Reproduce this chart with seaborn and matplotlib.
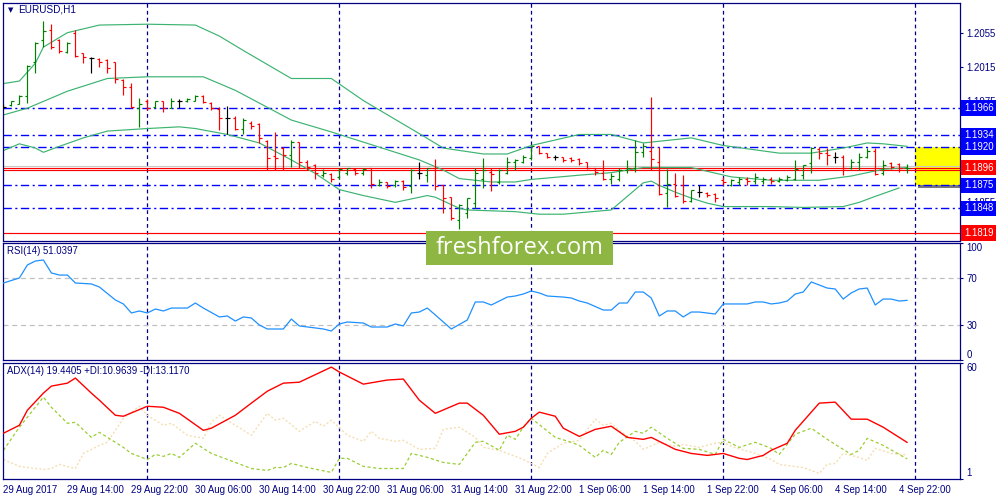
import matplotlib
matplotlib.use("Agg")
import matplotlib.pyplot as plt
import matplotlib.patheffects as pe
import matplotlib.transforms as mtransforms
from matplotlib.patches import Rectangle
import numpy as np
import pandas as pd
import seaborn as sns

sns.set_style("white")
plt.rcParams["font.family"] = ["Liberation Sans", "DejaVu Sans"]

# EURUSD H1 bars, 29 Aug 06:00 .. 4 Sep 23:00 (one value per hourly bar)
opens = [1.1967, 1.1970, 1.1971, 1.1980, 1.2020, 1.2046, 1.2058, 1.2046, 1.2032, 1.2055,
         1.2031, 1.2025, 1.2024, 1.2023, 1.2020, 1.1999, 1.1991, 1.1966, 1.1974, 1.1967,
         1.1974, 1.1966, 1.1975, 1.1974, 1.1975, 1.1980, 1.1972, 1.1965, 1.1955, 1.1955,
         1.1942, 1.1949, 1.1947, 1.1927, 1.1910, 1.1919, 1.1911, 1.1926, 1.1902, 1.1899,
         1.1887, 1.1888, 1.1885, 1.1889, 1.1894, 1.1890, 1.1895, 1.1876, 1.1879, 1.1875,
         1.1880, 1.1874, 1.1890, 1.1887, 1.1895, 1.1875, 1.1861, 1.1834, 1.1843, 1.1854,
         1.1883, 1.1891, 1.1879, 1.1890, 1.1902, 1.1903, 1.1907, 1.1921, 1.1913, 1.1908,
         1.1909, 1.1907, 1.1906, 1.1902, 1.1896, 1.1890, 1.1883, 1.1883, 1.1893, 1.1895,
         1.1914, 1.1915, 1.1903, 1.1866, 1.1877, 1.1875, 1.1857, 1.1867, 1.1866, 1.1865,
         1.1881, 1.1876, 1.1879, 1.1882, 1.1880, 1.1880, 1.1883, 1.1880, 1.1881, 1.1882,
         1.1887, 1.1901, 1.1918, 1.1913, 1.1908, 1.1909, 1.1896, 1.1902, 1.1908, 1.1916,
         1.1889, 1.1901, 1.1900, 1.1895]
highs = [1.1971, 1.1975, 1.1981, 1.2017, 1.2044, 1.2069, 1.2065, 1.2047, 1.2044, 1.2058,
         1.2031, 1.2026, 1.2025, 1.2024, 1.2020, 1.2000, 1.1996, 1.1978, 1.1977, 1.1975,
         1.1975, 1.1978, 1.1977, 1.1978, 1.1981, 1.1981, 1.1973, 1.1967, 1.1968, 1.1957,
         1.1954, 1.1951, 1.1949, 1.1928, 1.1938, 1.1920, 1.1928, 1.1926, 1.1905, 1.1900,
         1.1894, 1.1889, 1.1896, 1.1896, 1.1895, 1.1895, 1.1896, 1.1882, 1.1879, 1.1881,
         1.1881, 1.1894, 1.1902, 1.1896, 1.1906, 1.1876, 1.1861, 1.1853, 1.1860, 1.1896,
         1.1907, 1.1895, 1.1894, 1.1908, 1.1906, 1.1911, 1.1922, 1.1921, 1.1913, 1.1911,
         1.1909, 1.1908, 1.1907, 1.1903, 1.1896, 1.1905, 1.1889, 1.1895, 1.1905, 1.1929,
         1.1925, 1.1979, 1.1920, 1.1894, 1.1889, 1.1887, 1.1870, 1.1875, 1.1867, 1.1866,
         1.1885, 1.1883, 1.1885, 1.1885, 1.1889, 1.1885, 1.1885, 1.1885, 1.1887, 1.1905,
         1.1899, 1.1920, 1.1920, 1.1919, 1.1914, 1.1911, 1.1906, 1.1913, 1.1919, 1.1919,
         1.1905, 1.1902, 1.1901, 1.1900]
lows = [1.1965, 1.1968, 1.1971, 1.1972, 1.2008, 1.2038, 1.2036, 1.2031, 1.2031, 1.2026,
        1.2019, 1.2007, 1.2014, 1.2008, 1.1996, 1.1981, 1.1966, 1.1944, 1.1964, 1.1966,
        1.1961, 1.1966, 1.1966, 1.1973, 1.1974, 1.1972, 1.1964, 1.1940, 1.1936, 1.1940,
        1.1936, 1.1942, 1.1925, 1.1893, 1.1893, 1.1893, 1.1897, 1.1896, 1.1893, 1.1882,
        1.1885, 1.1879, 1.1883, 1.1887, 1.1887, 1.1887, 1.1872, 1.1874, 1.1872, 1.1873,
        1.1870, 1.1866, 1.1883, 1.1879, 1.1870, 1.1842, 1.1834, 1.1823, 1.1836, 1.1848,
        1.1872, 1.1868, 1.1877, 1.1888, 1.1893, 1.1901, 1.1905, 1.1912, 1.1907, 1.1905,
        1.1902, 1.1902, 1.1899, 1.1894, 1.1887, 1.1881, 1.1877, 1.1880, 1.1889, 1.1891,
        1.1909, 1.1893, 1.1864, 1.1849, 1.1861, 1.1854, 1.1855, 1.1861, 1.1861, 1.1855,
        1.1875, 1.1874, 1.1876, 1.1876, 1.1877, 1.1877, 1.1877, 1.1879, 1.1880, 1.1881,
        1.1883, 1.1889, 1.1906, 1.1899, 1.1901, 1.1887, 1.1894, 1.1893, 1.1907, 1.1887,
        1.1887, 1.1894, 1.1891, 1.1889]
closes = [1.1967, 1.1974, 1.1980, 1.2016, 1.2043, 1.2057, 1.2038, 1.2033, 1.2043, 1.2027,
          1.2026, 1.2025, 1.2021, 1.2013, 1.2000, 1.1991, 1.1967, 1.1971, 1.1966, 1.1975,
          1.1966, 1.1975, 1.1975, 1.1977, 1.1980, 1.1973, 1.1966, 1.1954, 1.1955, 1.1942,
          1.1952, 1.1945, 1.1931, 1.1907, 1.1907, 1.1911, 1.1926, 1.1902, 1.1897, 1.1890,
          1.1890, 1.1883, 1.1894, 1.1895, 1.1890, 1.1894, 1.1877, 1.1879, 1.1874, 1.1880,
          1.1873, 1.1893, 1.1890, 1.1895, 1.1874, 1.1860, 1.1836, 1.1852, 1.1860, 1.1890,
          1.1893, 1.1888, 1.1893, 1.1903, 1.1905, 1.1908, 1.1921, 1.1913, 1.1909, 1.1908,
          1.1905, 1.1905, 1.1901, 1.1896, 1.1891, 1.1883, 1.1886, 1.1893, 1.1895, 1.1914,
          1.1922, 1.1906, 1.1865, 1.1877, 1.1862, 1.1857, 1.1869, 1.1867, 1.1864, 1.1860,
          1.1879, 1.1881, 1.1883, 1.1880, 1.1885, 1.1883, 1.1880, 1.1882, 1.1885, 1.1894,
          1.1899, 1.1919, 1.1913, 1.1911, 1.1908, 1.1895, 1.1903, 1.1909, 1.1916, 1.1888,
          1.1899, 1.1897, 1.1895, 1.1896]

# Bollinger bands (read at bar positions)
bb_upper_bar = [0, 2, 4, 5, 8, 12, 18, 24, 27, 30, 32, 36, 41, 45, 52, 55, 60, 63, 66, 72,
                76, 80, 86, 90, 97, 101, 105, 108, 110, 113]
bb_upper = [1.1995, 1.1998, 1.2019, 1.2038, 1.2055, 1.2064, 1.2065, 1.2064, 1.2051, 1.2034,
            1.2023, 1.2001, 1.2001, 1.1975, 1.1936, 1.1919, 1.1912, 1.1912, 1.1922, 1.1935,
            1.1935, 1.1925, 1.1931, 1.1922, 1.1913, 1.1913, 1.1919, 1.1925, 1.1924, 1.1921]
bb_mid_bar = [0, 3, 8, 13, 18, 25, 29, 33, 36, 41, 45, 49, 52, 55, 57, 61, 64, 66, 72, 76,
              80, 86, 91, 96, 102, 106, 110, 113]
bb_mid = [1.1958, 1.1966, 1.1986, 1.2001, 1.2003, 1.2003, 1.1987, 1.1967, 1.1952, 1.1938,
          1.1926, 1.1914, 1.1905, 1.1893, 1.1883, 1.1879, 1.1879, 1.1882, 1.1887, 1.1890,
          1.1896, 1.1896, 1.1885, 1.1881, 1.1881, 1.1886, 1.1894, 1.1896]
bb_lower_bar = [0, 2, 4, 5, 7, 10, 13, 18, 22, 24, 28, 32, 36, 39, 42, 45, 49, 53, 54, 57,
                58, 64, 67, 70, 76, 80, 81, 82, 84, 86, 88, 90, 96, 100, 105, 107, 109, 112]
bb_lower = [1.1916, 1.1924, 1.1919, 1.1914, 1.1921, 1.1931, 1.1939, 1.1942, 1.1944, 1.1942,
            1.1935, 1.1925, 1.1905, 1.1889, 1.1870, 1.1863, 1.1855, 1.1863, 1.1861, 1.1848,
            1.1846, 1.1844, 1.1841, 1.1841, 1.1846, 1.1878, 1.1880, 1.1875, 1.1867, 1.1860,
            1.1854, 1.1850, 1.1850, 1.1849, 1.1850, 1.1855, 1.1862, 1.1872]

# RSI(14)
rsi_bar = [0, 2, 3, 4, 5, 6, 7, 8, 9, 11, 12, 14, 15, 16, 17, 18, 19, 20, 21, 23,
           24, 25, 27, 28, 29, 30, 31, 32, 33, 35, 36, 37, 39, 40, 41, 42, 43, 45, 46, 48,
           49, 50, 51, 52, 53, 54, 55, 56, 58, 59, 60, 61, 62, 63, 64, 65, 66, 67, 68, 70,
           71, 72, 73, 75, 76, 77, 78, 79, 80, 81, 82, 83, 84, 85, 86, 87, 89, 90, 91, 93,
           94, 95, 96, 97, 98, 99, 100, 101, 102, 103, 104, 105, 106, 107, 108, 109, 110, 111, 112, 113]
rsi = [65.8, 70.1, 81.2, 84.6, 85.5, 74.4, 72.6, 72.6, 65.8, 65.0,
       62.4, 51.3, 47.9, 40.2, 41.9, 40.2, 43.6, 41.9, 44.4, 44.4,
       48.7, 44.4, 36.8, 37.6, 33.3, 36.8, 35.9, 29.9, 26.5, 26.5,
       35.0, 29.1, 27.4, 26.5, 24.8, 30.8, 32.5, 31.6, 28.2, 28.2,
       30.8, 29.1, 40.2, 41.0, 44.4, 38.5, 32.5, 26.5, 34.2, 49.6,
       49.6, 47.0, 50.4, 53.8, 54.7, 56.4, 59.0, 57.3, 54.7, 53.8,
       53.0, 50.4, 48.7, 42.7, 42.7, 48.7, 48.7, 58.1, 58.1, 53.0,
       37.6, 41.9, 41.9, 36.8, 41.0, 41.0, 39.3, 47.9, 47.9, 47.9,
       49.6, 49.6, 47.9, 48.7, 50.4, 56.4, 58.1, 66.7, 64.1, 61.5,
       60.7, 52.1, 57.3, 60.7, 61.5, 47.0, 52.1, 52.1, 50.4, 51.0]

# ADX(14) with +DI / -DI
adx_bar = [0, 2, 3, 5, 6, 8, 9, 11, 12, 14, 15, 18, 20, 22, 25, 26, 29, 31, 33, 35,
           37, 41, 42, 45, 48, 50, 52, 54, 57, 58, 60, 62, 64, 65, 66, 67, 69, 70, 72, 74,
           76, 78, 80, 81, 84, 86, 88, 90, 92, 93, 95, 96, 98, 99, 102, 104, 106, 108, 110, 113]
adx = [24.1, 28.2, 35.9, 44.6, 48.2, 49.7, 52.3, 44.6, 41.0, 33.3,
       32.8, 37.9, 37.4, 34.3, 25.6, 26.7, 33.3, 39.5, 45.6, 49.7,
       50.2, 57.9, 55.4, 49.2, 51.3, 51.8, 41.0, 34.3, 39.5, 39.5,
       33.3, 23.6, 25.1, 27.2, 31.8, 34.9, 32.8, 26.7, 22.5, 26.1,
       27.7, 22.0, 21.0, 22.0, 15.9, 13.8, 12.8, 13.8, 11.3, 10.7,
       12.8, 15.4, 19.0, 25.6, 39.5, 40.0, 31.3, 31.3, 27.2, 19.4]
pdi_bar = [0, 2, 5, 6, 8, 9, 11, 12, 15, 16, 18, 19, 20, 21, 22, 24, 26, 29, 31, 33,
           34, 35, 36, 38, 41, 42, 43, 45, 47, 50, 51, 53, 55, 57, 59, 60, 62, 63, 64, 65,
           66, 69, 71, 72, 74, 75, 76, 77, 79, 80, 81, 83, 85, 87, 89, 90, 92, 94, 96, 97,
           99, 101, 103, 106, 107, 108, 110, 113]
pdi = [15.4, 27.2, 42.6, 37.4, 29.2, 29.7, 22.0, 24.6, 16.9, 13.8,
       10.7, 13.3, 12.3, 13.8, 11.8, 19.0, 13.8, 9.2, 6.1, 5.1,
       6.6, 6.6, 8.7, 6.6, 4.1, 11.3, 11.3, 7.2, 6.1, 6.1,
       13.8, 11.8, 9.2, 8.2, 19.5, 20.0, 15.4, 23.1, 21.0, 27.2,
       31.8, 22.0, 19.5, 17.9, 11.8, 15.4, 13.3, 19.5, 25.1, 24.1,
       27.2, 21.5, 16.4, 15.9, 13.3, 21.0, 16.9, 19.5, 16.4, 13.3,
       23.6, 26.7, 21.0, 13.3, 15.4, 21.5, 17.9, 11.0]
mdi_bar = [0, 2, 5, 6, 7, 9, 10, 12, 13, 15, 17, 18, 20, 21, 23, 25, 26, 27, 29, 31,
           33, 34, 35, 37, 39, 40, 41, 43, 45, 46, 47, 49, 50, 52, 54, 55, 57, 59, 60, 62,
           65, 67, 68, 70, 72, 74, 75, 76, 77, 79, 80, 82, 84, 85, 87, 89, 90, 91, 94, 96,
           97, 100, 102, 103, 104, 105, 107, 108, 109, 111, 113]
mdi = [10.7, 7.2, 5.6, 6.1, 8.2, 6.1, 13.8, 17.9, 19.5, 31.8,
       37.9, 33.3, 28.2, 29.2, 23.1, 21.5, 29.7, 33.3, 28.2, 23.1,
       34.3, 30.8, 31.8, 25.1, 30.2, 27.7, 30.8, 23.1, 20.0, 25.1,
       21.5, 20.0, 20.5, 15.9, 16.4, 26.1, 27.2, 22.0, 16.9, 15.4,
       10.7, 6.6, 13.8, 19.0, 20.5, 31.3, 28.2, 29.2, 25.6, 20.0,
       15.9, 19.5, 17.4, 18.4, 16.9, 19.0, 19.5, 17.4, 13.8, 10.7,
       8.2, 6.6, 3.6, 8.2, 8.7, 13.8, 11.8, 10.2, 16.4, 13.8, 13.1]

# horizontal levels and zone
blue_levels = [1.1966, 1.1934, 1.1920, 1.1875, 1.1848]
red_levels = [1.1896, 1.1893, 1.1819]
red_labels = [1.1896, 1.1819]
bid_level = 1.1898
zone_top, zone_bottom = 1.1920, 1.1875
zone_start_bar = 114
price_ticks = [1.2055, 1.2015, 1.1975, 1.1935, 1.1895, 1.1855, 1.1815]
hidden_ticks = [1.1935, 1.1895]   # fully covered by the level boxes

day_start_bars = [18, 42, 66, 90, 114]
time_labels = ["29 Aug 2017", "29 Aug 14:00", "29 Aug 22:00", "30 Aug 06:00", "30 Aug 14:00",
               "30 Aug 22:00", "31 Aug 06:00", "31 Aug 14:00", "31 Aug 22:00", "1 Sep 06:00",
               "1 Sep 14:00", "1 Sep 22:00", "4 Sep 06:00", "4 Sep 14:00", "4 Sep 22:00"]

NAVY = "#000080"
FS = 6.9
X_MAX = 119.6

bars = pd.DataFrame({"open": opens, "high": highs, "low": lows, "close": closes})
bars["bar"] = np.arange(len(bars))
bars["color"] = ["#008000" if c > o else ("#FF0000" if c < o else "black")
                 for o, c in zip(bars["open"], bars["close"])]

fig = plt.figure(figsize=(10, 5), dpi=100)
ax_p = fig.add_axes([0.003, 0.519, 0.957, 0.475])
ax_r = fig.add_axes([0.003, 0.280, 0.957, 0.234], sharex=ax_p)
ax_a = fig.add_axes([0.003, 0.043, 0.957, 0.231], sharex=ax_p)

for ax in (ax_p, ax_r, ax_a):
    ax.set_facecolor("white")
    for s in ax.spines.values():
        s.set_color(NAVY)
        s.set_linewidth(0.9)
    ax.yaxis.tick_right()
    ax.tick_params(axis="y", direction="out", length=2.5, width=0.8, colors=NAVY,
                   labelsize=FS, pad=2, right=True, left=False)
    for b in day_start_bars:
        ax.axvline(b, color=NAVY, lw=0.9, ls=(0, (3, 2.5)), zorder=1)

# ---- price panel ----
ax_p.add_patch(Rectangle((zone_start_bar, zone_bottom), X_MAX - zone_start_bar, zone_top - zone_bottom,
                         facecolor="#FFFF00", edgecolor="none", zorder=0.5,
                         path_effects=[pe.withSimplePatchShadow(offset=(2, -2), shadow_rgbFace="#555555", alpha=0.8)]))
for lv in blue_levels:
    ax_p.axhline(lv, color="#0000FF", lw=1.0, ls=(0, (6, 2.5, 1.5, 2.5)), zorder=1)
ax_p.axhline(bid_level, color="#C8C8C8", lw=0.8, zorder=1.5)
for lv in red_levels:
    ax_p.axhline(lv, color="#FF0000", lw=0.85, zorder=1.6)

for xs, ys in ((bb_upper_bar, bb_upper), (bb_mid_bar, bb_mid), (bb_lower_bar, bb_lower)):
    sns.lineplot(x=xs, y=ys, ax=ax_p, color="#3CB371", lw=0.85, zorder=2)

ax_p.vlines(bars["bar"], bars["low"], bars["high"], colors=bars["color"], lw=0.85, zorder=3)
ax_p.hlines(bars["open"], bars["bar"] - 0.33, bars["bar"], colors=bars["color"], lw=0.85, zorder=3)
ax_p.hlines(bars["close"], bars["bar"], bars["bar"] + 0.33, colors=bars["color"], lw=0.85, zorder=3)

ax_p.set_xlim(-0.05, X_MAX)
ax_p.set_ylim(1.1810, 1.2090)
ax_p.set_yticks(price_ticks)
ax_p.set_yticklabels(["" if v in hidden_ticks else f"{v:.4f}" for v in price_ticks])

trans = mtransforms.blended_transform_factory(ax_p.transAxes, ax_p.transData)
for lv in blue_levels:
    ax_p.text(1.0042, lv, f"{lv:.4f}", transform=trans, color="white", fontsize=FS,
              ha="left", va="center", clip_on=False, zorder=6,
              bbox=dict(boxstyle="square,pad=0.28", fc="#0000FF", ec="none"))
for lv in red_labels:
    ax_p.text(1.0042, lv, f"{lv:.4f}", transform=trans, color="white", fontsize=FS,
              ha="left", va="center", clip_on=False, zorder=6,
              bbox=dict(boxstyle="square,pad=0.28", fc="#FF0000", ec="none"))

# ---- RSI panel ----
ax_r.axhline(70, color="#C0C0C0", lw=0.9, ls=(0, (4, 3)), zorder=1)
ax_r.axhline(30, color="#C0C0C0", lw=0.9, ls=(0, (4, 3)), zorder=1)
sns.lineplot(x=rsi_bar, y=rsi, ax=ax_r, color="#1E90FF", lw=0.9, zorder=3)
ax_r.set_ylim(0, 100)
ax_r.set_yticks([100, 70, 30, 0])
ax_r.set_yticklabels(["100", "70", "30", "0"])
rl = ax_r.get_yticklabels()
rl[0].set_va("top")
rl[3].set_va("bottom")

# ---- ADX panel ----
sns.lineplot(x=mdi_bar, y=mdi, ax=ax_a, color="#F5DEB3", lw=1.0, ls=(0, (1.5, 1.5)), zorder=2)
sns.lineplot(x=pdi_bar, y=pdi, ax=ax_a, color="#9ACD32", lw=0.9, ls=(0, (2.5, 2)), zorder=2)
sns.lineplot(x=adx_bar, y=adx, ax=ax_a, color="#FF0000", lw=1.0, zorder=3)
ax_a.set_ylim(1, 60)
ax_a.set_yticks([60, 1])
ax_a.set_yticklabels(["60", "1"])
al = ax_a.get_yticklabels()
al[0].set_va("top")
al[1].set_va("bottom")

for ax in (ax_p, ax_r, ax_a):
    ax.set_xlabel("")
    ax.set_ylabel("")
ax_p.tick_params(axis="x", bottom=False, labelbottom=False)
ax_r.tick_params(axis="x", bottom=False, labelbottom=False)
ax_a.set_xticks(list(range(0, 8 * len(time_labels), 8)))
ax_a.set_xticklabels(time_labels)
ax_a.tick_params(axis="x", direction="out", length=3, width=0.8, colors=NAVY, labelsize=FS, pad=1.5)
for lbl in ax_a.get_xticklabels():
    lbl.set_ha("left")
ax_p.set_xlim(-0.05, X_MAX)

# ---- captions ----
fig.text(0.0075, 1 - 10.5 / 500, "\u25bc", fontsize=5, color=NAVY, va="center", family="DejaVu Sans")
fig.text(0.018, 1 - 10 / 500, "EURUSD,H1", fontsize=7.2, color=NAVY, va="center")
fig.text(0.007, 1 - 251.5 / 500, "RSI(14) 51.0397", fontsize=FS, color=NAVY, va="center")
fig.text(0.007, 1 - 371.5 / 500, "ADX(14) 19.4405 +DI:10.9639 -DI:13.1170", fontsize=FS, color=NAVY, va="center")

wm = Rectangle((0.426, 1 - 265 / 500), 0.187, 34 / 500, transform=fig.transFigure,
               facecolor="#8DB642", edgecolor="none", zorder=10)
fig.add_artist(wm)
fig.text(0.5195, 1 - 248 / 500, "freshforex.com", fontsize=17, color="white",
         ha="center", va="center", family="Open Sans", zorder=11)

fig.savefig("out.png", dpi=100)
